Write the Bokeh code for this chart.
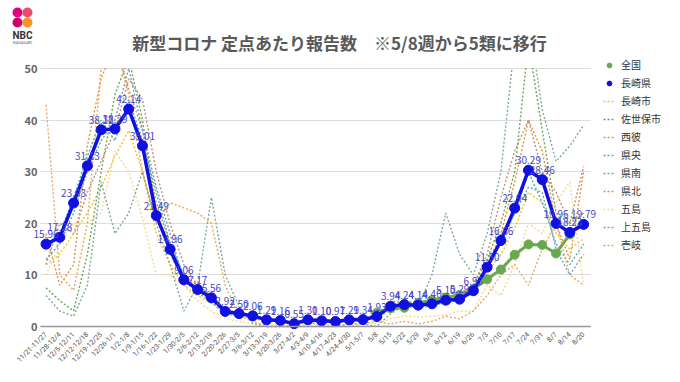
import math
from bokeh.plotting import figure
from bokeh.models import (Range1d, FixedTicker, Legend, LegendItem, ColumnDataSource)
from bokeh.core.properties import value
from bokeh.embed import file_html
from bokeh.resources import INLINE

weeks = ["11/21-11/27", "11/28-12/4", "12/5-12/11", "12/12-12/18", "12/19-12/25", "12/26-1/1",
         "1/2-1/8", "1/9-1/15", "1/16-1/22", "1/23-1/29", "1/30-2/5", "2/6-2/12", "2/13-2/19",
         "2/20-2/26", "2/27-3/5", "3/6-3/12", "3/13-3/19", "3/20-3/26", "3/27-4/2", "4/3-4/9",
         "4/10-4/16", "4/17-4/23", "4/24-4/30", "5/1-5/7", "5/8", "5/15", "5/22", "5/29", "6/5",
         "6/12", "6/19", "6/26", "7/3", "7/10", "7/17", "7/24", "7/31", "8/7", "8/14", "8/20"]

nagasaki_pref = [15.96, 17.28, 23.93, 31.13, 38.12, 38.29, 42.14, 35.01, 21.49, 14.96, 9.06, 7.17,
                 5.56, 2.92, 2.50, 2.06, 1.29, 1.16, 0.55, 1.30, 1.10, 0.97, 1.29, 1.34, 1.93, 3.94,
                 4.24, 4.14, 4.40, 5.10, 5.29, 6.93, 11.50, 16.66, 22.94, 30.29, 28.46, 19.96, 18.23, 19.79]

national_start = 24
national = [2.63, 3.56, 3.63, 4.55, 5.11, 5.60, 6.13, 7.24, 9.14, 11.04, 13.91, 15.91, 15.81, 14.16, 17.84]

nagasaki_city = [12, 14, 18, 22, 27, 33, 38, 30, 18, 12, 8, 6, 4.5, 2.5, 2.0, 1.5, 1.0, 1.0, 0.4, 1.0,
                 0.8, 0.7, 1.0, 1.2, 1.6, 3.2, 3.8, 3.5, 4.0, 4.8, 5.0, 6.5, 10.5, 14, 19, 26, 24, 18, 15, 17]
sasebo = [7.5, 5, 3, 14, 30, 45, 52, 40, 22, 14, 9, 7, 5, 3, 2.8, 2.2, 1.5, 1.2, 0.6, 1.4,
          1.2, 1.0, 1.4, 1.5, 2.2, 4.2, 4.8, 4.5, 4.9, 5.5, 6.0, 8, 13, 20, 30, 55, 38, 22, 20, 22]
saihi = [18, 8, 12, 35, 48, 55, 46, 38, 24, 16, 10, 8, 6, 3.5, 2.4, 2.0, 1.3, 1.2, 0.5, 1.5,
         1.0, 0.9, 1.2, 1.0, 2.0, 4.0, 4.5, 3.8, 4.6, 5.2, 5.6, 7.5, 12, 18, 28, 40, 34, 20, 13, 30]
kenou = [15, 18, 25, 33, 40, 36, 44, 36, 26, 16, 10, 7, 6, 3, 2.5, 2.0, 1.3, 1.2, 0.6, 1.3,
         1.2, 1.0, 1.3, 1.4, 2.0, 4.0, 4.3, 4.2, 4.6, 5.2, 5.4, 7.0, 11.5, 16, 22, 30, 24, 16, 12, 16]
kennan = [13, 16, 22, 30, 36, 40, 50, 38, 27, 18, 9, 6.5, 4.8, 2.4, 2.2, 1.8, 1.2, 1.0, 0.5, 1.1,
          0.9, 0.8, 1.1, 1.2, 1.7, 3.6, 3.9, 3.8, 4.0, 4.6, 5.0, 6.5, 11, 17, 22, 27, 26, 15, 10, 14]
kenhoku = [12, 20, 18, 26, 32, 38, 48, 44, 30, 20, 12, 8, 6, 3, 2, 2.2, 1.4, 1.1, 0.6, 1.6,
           1.4, 1.2, 1.5, 1.6, 2.4, 4.8, 5.0, 4.6, 5.0, 5.6, 6.4, 8, 14, 25, 34, 40, 30, 26, 20, 31]
goto = [10, 16, 20, 20, 22, 34, 30, 21, 10, 10, 8, 5, 3, 1.5, 1.0, 0.5, 0.5, 0.3, 0.0, 0.5,
        0.5, 0.2, 0.3, 0.8, 0.6, 1.5, 2.0, 1.8, 2.0, 2.2, 3.0, 3.0, 8, 6, 12, 20, 18, 24, 28, 8]
kamigoto = [6, 3, 2, 8, 28, 18, 22, 30, 20, 12, 3, 8, 25, 10, 4, 0.5, 0.0, 0.0, 0.0, 0.0,
            0.0, 0.0, 0.5, 0.5, 0.0, 2.5, 4.0, 4.0, 10, 22, 14, 10, 18, 30, 55, 60, 42, 32, 35, 39]
iki = [43, 10, 7, 20, 50, 55, 45, 30, 20, 24, 23, 22, 20, 8, 2, 1.0, 0.0, 0.0, 0.0, 1.0,
       0.0, 0.0, 0.0, 0.5, 1.0, 0.5, 1.0, 0.5, 1.0, 2.0, 1.5, 3.0, 6, 10, 12, 8, 15, 20, 10, 8]

area_names = ["長崎市", "佐世保市", "西彼", "県央", "県南", "県北", "五島", "上五島", "壱岐"]
area_series = [nagasaki_city, sasebo, saihi, kenou, kennan, kenhoku, goto, kamigoto, iki]
area_colors = ["#f1c232", "#6aa84f", "#e69138", "#45b0c4", "#6f9fc0", "#c0907c", "#f3d98a", "#7fa8a0", "#e6a860"]

title_text = "新型コロナ 定点あたり報告数　※5/8週から5類に移行"
y_ticks = [0, 10, 20, 30, 40, 50]

JP = "Noto Sans CJK JP"
W, H = 664, 366
PLOT_L, PLOT_R = 40, 590    # pixel extent of the data area
PLOT_T, PLOT_B = 68, 326    # pixel y of value 50 and of value 0
X0, X1 = -0.4, 39.5
xscale = (PLOT_R - PLOT_L) / (X1 - X0)
yscale = (PLOT_B - PLOT_T) / 50.0
x_start = X0 - PLOT_L / xscale
x_end = X1 + (W - PLOT_R) / xscale
y_start = -(H - PLOT_B) / yscale
y_end = 50 + PLOT_T / yscale

xs = list(range(len(weeks)))

p = figure(width=W, height=H, output_backend="svg", toolbar_location=None,
           x_range=Range1d(x_start, x_end), y_range=Range1d(y_start, y_end),
           min_border_left=0, min_border_right=0, min_border_top=0, min_border_bottom=0)
p.extra_x_ranges = {"px": Range1d(0, W)}
p.extra_y_ranges = {"px": Range1d(H, 0)}
p.outline_line_color = None

p.xgrid.grid_line_color = None
p.ygrid.grid_line_color = "#dcdcdc"
p.ygrid.grid_line_width = 1
grid_limited = True
try:
    p.ygrid.cross_bounds = (X0, X1)
except Exception:
    grid_limited = False

p.yaxis.ticker = FixedTicker(ticks=y_ticks)
p.yaxis.fixed_location = X0 + 4 / xscale
p.yaxis.axis_line_color = None
p.yaxis.major_tick_line_color = None
p.yaxis.minor_tick_line_color = None
p.yaxis.major_label_text_font = JP
p.yaxis.major_label_text_font_size = "11px"
p.yaxis.major_label_text_font_style = "bold"
p.yaxis.major_label_text_color = "#666666"
p.yaxis.major_label_standoff = 1

p.xaxis.ticker = FixedTicker(ticks=xs)
p.xaxis.fixed_location = 0
p.xaxis.bounds = (X0, X1)
p.xaxis.major_label_overrides = {i: w for i, w in enumerate(weeks)}
p.xaxis.major_label_orientation = math.pi / 4
p.xaxis.axis_line_color = "#999999"
p.xaxis.axis_line_width = 1.5
p.xaxis.major_tick_line_color = None
p.xaxis.minor_tick_line_color = None
p.xaxis.major_label_text_font = "Roboto"
p.xaxis.major_label_text_font_size = "7px"
p.xaxis.major_label_text_color = "#555555"
p.xaxis.major_label_standoff = 1

if not grid_limited:
    p.quad(left=[0, PLOT_R], right=[PLOT_L - 1, W], top=[0, 0], bottom=[PLOT_B - 2, PLOT_B - 2],
           x_range_name="px", y_range_name="px", fill_color="white", line_color=None)

area_renderers = []
for name, ser, col in zip(area_names, area_series, area_colors):
    r = p.line(xs, ser, line_color=col, line_width=1.4, line_dash="2 2")
    area_renderers.append((name, r))

nx = xs[national_start:national_start + len(national)]
p.line(nx, national, line_color="#6aa84f", line_width=3)
gs = p.scatter(nx, national, size=9, fill_color="#6aa84f", line_color="#6aa84f")

p.line(xs, nagasaki_pref, line_color="#1010e0", line_width=3.5)
bs = p.scatter(xs, nagasaki_pref, size=10, fill_color="#1010e0", line_color="#1010e0")

src = ColumnDataSource(dict(x=xs, y=nagasaki_pref, t=["%.2f" % v for v in nagasaki_pref]))
p.text(x="x", y="y", text="t", source=src, y_offset=-6, text_align="center",
       text_baseline="bottom", text_font=value(JP), text_font_size="10px", text_color="#4646c8")

# mask everything above the 50 line (the reference clips its plot area there)
p.quad(left=[0], right=[W], top=[0], bottom=[PLOT_T - 0.5],
       x_range_name="px", y_range_name="px", fill_color="white", line_color=None)

# header: logo + title (pixel coordinates via extra ranges)
logo_x = [17, 27, 17, 27]
logo_y = [12, 12, 22, 22]
logo_c = ["#e4007f", "#ef4b6a", "#d2006e", "#f7931e"]
p.scatter(logo_x, logo_y, size=10, fill_color=logo_c, line_color=None,
          x_range_name="px", y_range_name="px")
p.text([22], [35], text=["NBC"], text_font=value("Roboto"), text_font_size="10px",
       text_font_style="bold", text_color="#333333", text_align="center", text_baseline="middle",
       x_range_name="px", y_range_name="px")
p.text([22], [42], text=["NAGASAKI"], text_font=value("Roboto"), text_font_size="4px",
       text_color="#666666", text_align="center", text_baseline="middle",
       x_range_name="px", y_range_name="px")
p.text([339], [42], text=[title_text], text_font=value(JP), text_font_size="17px",
       text_font_style="bold", text_color="#595959", text_align="center", text_baseline="middle",
       x_range_name="px", y_range_name="px")

legend_items = [LegendItem(label="全国", renderers=[gs]), LegendItem(label="長崎県", renderers=[bs])]
for name, r in area_renderers:
    legend_items.append(LegendItem(label=name, renderers=[r]))

legend = Legend(items=legend_items, location=(603, 114), orientation="vertical",
                border_line_color=None, background_fill_alpha=0,
                label_text_font=JP, label_text_font_size="10px", label_text_color="#333333",
                glyph_width=12, glyph_height=14, label_height=14, spacing=3, padding=0,
                margin=0, label_standoff=6)
p.add_layout(legend, "center")

open("out.html", "w").write(file_html(p, INLINE))
